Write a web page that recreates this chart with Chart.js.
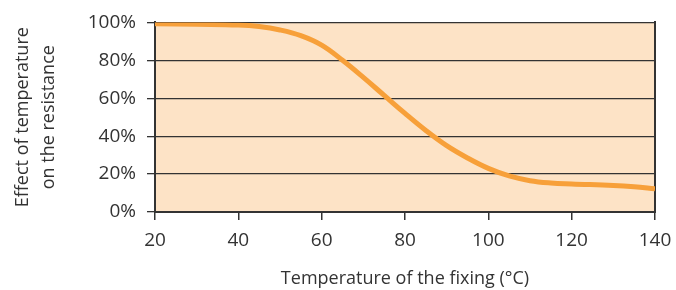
<!DOCTYPE html>
<html>
<head>
<meta charset="utf-8">
<script src="https://cdn.jsdelivr.net/npm/chart.js@4"></script>
<style>
    html, body { margin: 0; padding: 0; background: #ffffff; }
    #grafico { width: 676px; height: 290px; }
</style>
</head>
<body>
<div id="grafico"><canvas id="canvasTemperatura"></canvas></div>
<script>
// temperatura da fixação (°C) e efeito sobre a resistência (%)
var temperaturas = [20, 30, 40, 45, 50, 55, 60, 65, 70, 75, 80, 85, 90, 95, 100, 105, 110, 115, 120, 130, 135, 140];
var resistencia  = [99.3, 99, 98.6, 97.8, 96, 93, 88, 80, 71, 61.5, 52, 43, 35, 28.5, 23, 19, 16.5, 15.3, 14.8, 14, 13.3, 12.2];
var ticksX = [20, 40, 60, 80, 100, 120, 140];
var ticksY = [0, 20, 40, 60, 80, 100];

var corTexto = "#333333";
var corLinha = "#f7a03a";
var corFundo = "#fde3c6";

var fundoPlugin = {
    id: "fundoArea",
    beforeDraw: function (chart) {
        var a = chart.chartArea;
        var ctx = chart.ctx;
        ctx.save();
        ctx.fillStyle = corFundo;
        ctx.fillRect(a.left, a.top, a.right - a.left, a.bottom - a.top);
        ctx.restore();
    }
};

var pontos = [];
for (var i = 0; i < temperaturas.length; i++) {
    pontos.push({ x: temperaturas[i], y: resistencia[i] });
}

Chart.defaults.font.family = "'Open Sans', sans-serif";
Chart.defaults.color = corTexto;

var config = {
    type: "line",
    data: {
        datasets: [{
            data: pontos,
            borderColor: corLinha,
            borderWidth: 5,
            pointRadius: 0,
            tension: 0.4,
            fill: false
        }]
    },
    options: {
        responsive: false,
        animation: false,
        maintainAspectRatio: false,
        layout: { padding: { top: 20, left: 0, right: 0, bottom: 0 } },
        plugins: {
            legend: { display: false },
            tooltip: { enabled: false }
        },
        scales: {
            x: {
                type: "linear",
                min: 20,
                max: 140,
                afterBuildTicks: function (eixo) {
                    eixo.ticks = ticksX.map(function (v) { return { value: v }; });
                },
                afterFit: function (eixo) {
                    eixo.height = 78;
                    eixo.paddingLeft = 0;
                    eixo.paddingRight = 0;
                },
                ticks: { font: { size: 19 }, padding: 9, color: corTexto, maxRotation: 0 },
                grid: { drawOnChartArea: false, drawTicks: true, tickLength: 8, color: "#333333", lineWidth: 1.5 },
                border: { color: "#333333", width: 2 },
                title: {
                    display: true,
                    text: "Temperature of the fixing (°C)",
                    font: { size: 18, lineHeight: 1.2 },
                    color: corTexto,
                    padding: { top: 0, bottom: 0 }
                }
            },
            y: {
                min: 0,
                max: 100,
                afterBuildTicks: function (eixo) {
                    eixo.ticks = ticksY.map(function (v) { return { value: v }; });
                },
                afterFit: function (eixo) { eixo.width = 155; },
                ticks: {
                    font: { size: 19 },
                    padding: 11,
                    color: corTexto,
                    callback: function (v) { return v + "%"; }
                },
                grid: { color: "#333333", lineWidth: 1.3, tickLength: 8 },
                border: { color: "#333333", width: 2 },
                title: {
                    display: true,
                    text: ["Effect of temperature", "on the resistance"],
                    font: { size: 18, lineHeight: 1.45 },
                    color: corTexto,
                    padding: { top: 10, bottom: 0 }
                }
            },
            y2: {
                position: "right",
                min: 0,
                max: 100,
                afterFit: function (eixo) { eixo.width = 21; },
                ticks: { display: false },
                grid: { display: false },
                border: { color: "#333333", width: 2 }
            }
        }
    },
    plugins: [fundoPlugin]
};

var canvas = document.getElementById("canvasTemperatura");
canvas.width = 676;
canvas.height = 290;
new Chart(canvas, config);
</script>
</body>
</html>
